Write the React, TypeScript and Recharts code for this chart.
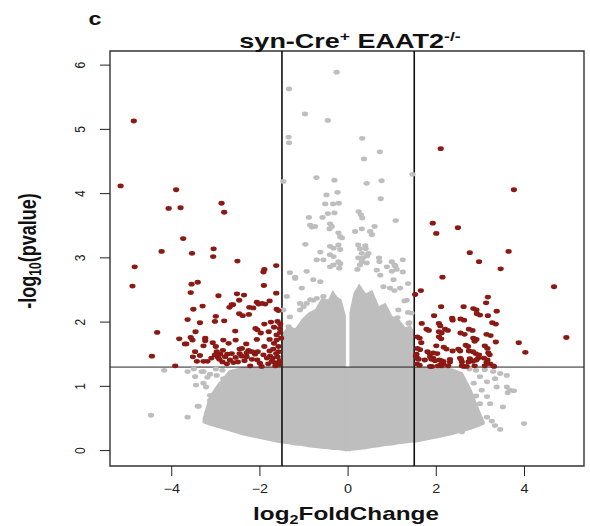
import React from "react";
import {
  ComposedChart,
  Area,
  Scatter,
  XAxis,
  YAxis,
  ReferenceLine,
  ReferenceArea,
} from "recharts";

const GREY = "#bebebe";
const RED = "#8b1a14";
const FONT = '"Liberation Sans", Arial, Helvetica, sans-serif';

const xTicks = [-4, -2, 0, 2, 4];
const yTicks = [0, 1, 2, 3, 4, 5, 6];

// dense grey cloud (non-significant genes), split at the thin gap near log2FC = 0
const leftCloudX = [-3.3, -3.15, -2.95, -2.7, -2.4, -2.0, -1.52, -1.5, -1.35, -1.2, -1.05, -0.9, -0.75, -0.6, -0.45, -0.35, -0.25, -0.15, -0.05];
const leftCloudLow = [0.43, 0.39, 0.35, 0.3, 0.24, 0.18, 0.11, 0.11, 0.1, 0.08, 0.07, 0.05, 0.04, 0.03, 0.02, 0.01, 0.01, 0.0, -0.01];
const leftCloudHigh = [0.5, 0.85, 1.05, 1.25, 1.3, 1.3, 1.3, 1.82, 1.95, 1.9, 2.05, 2.15, 2.2, 2.38, 2.35, 2.5, 2.4, 2.35, 2.1];
const midCloudX = [-0.08, 0.06];
const midCloudLow = [-0.01, -0.01];
const midCloudHigh = [1.3, 1.3];
const rightCloudX = [0.03, 0.12, 0.25, 0.4, 0.55, 0.7, 0.85, 1.0, 1.15, 1.3, 1.42, 1.5, 1.52, 2.0, 2.35, 2.6, 2.8, 3.0, 3.1];
const rightCloudLow = [-0.01, 0.0, 0.01, 0.02, 0.04, 0.05, 0.07, 0.08, 0.1, 0.11, 0.12, 0.12, 0.12, 0.19, 0.24, 0.29, 0.33, 0.38, 0.41];
const rightCloudHigh = [2.15, 2.45, 2.6, 2.45, 2.5, 2.25, 2.3, 2.1, 2.05, 1.92, 1.95, 1.85, 1.3, 1.3, 1.28, 1.22, 0.95, 0.6, 0.45];

// scattered grey genes around the cloud
const greyTop: [number, number][] = [
  [-0.26, 5.89], [-1.34, 5.63], [-0.98, 5.24], [-0.46, 5.14], [-1.35, 4.88], [-1.34, 4.79],
  [0.32, 4.86], [0.72, 4.65], [0.36, 4.54], [1.46, 4.3], [-1.47, 4.19], [-0.72, 4.25],
  [-0.31, 4.21], [0.42, 4.16], [0.76, 4.2], [-0.49, 3.98], [-0.24, 4.02], [0.74, 3.92],
  [-0.52, 3.84], [-0.34, 3.84], [-0.21, 3.85], [0.24, 3.72], [0.29, 3.67], [0.32, 3.62],
  [1.08, 3.58], [-0.89, 3.63], [-0.58, 3.63], [-0.46, 3.69], [-0.31, 3.7], [-0.86, 3.51],
  [-0.82, 3.48], [-0.75, 3.49], [-0.41, 3.53], [-0.37, 3.49], [-0.42, 3.45], [0.6, 3.49],
  [0.5, 3.41], [0.54, 3.36], [0.31, 3.45], [0.16, 3.41], [-0.22, 3.39], [-0.18, 3.33],
  [-0.14, 3.31], [-0.97, 3.21], [-0.41, 3.18], [-0.33, 3.15], [-0.22, 3.2], [-0.18, 3.13],
  [0.23, 3.2], [0.39, 3.19], [0.46, 3.07], [0.31, 3.07], [0.27, 3.14], [0.4, 3.14],
  [-0.63, 3.09], [-0.41, 3.05], [-0.33, 3.02], [-0.71, 2.97], [-0.56, 2.97], [0.99, 2.94],
  [1.07, 2.87], [0.7, 3.0], [0.88, 2.86], [0.99, 2.79], [0.65, 2.81], [1.24, 2.97],
  [1.1, 2.82], [0.71, 2.94], [0.43, 3.03], [0.34, 3.0], [-0.22, 2.94], [-0.18, 2.91],
  [-0.2, 2.84], [-0.41, 2.86], [-0.33, 2.89], [0.23, 3.0], [0.31, 2.94], [0.27, 2.89],
  [0.42, 2.92], [0.21, 2.82], [-1.32, 2.77], [-1.2, 2.7], [-0.94, 2.79], [-0.79, 2.66],
  [-0.63, 2.63], [-1.05, 2.53], [-1.39, 2.4], [-0.86, 2.35], [-0.71, 2.37], [-0.56, 2.4],
  [0.73, 2.73], [0.8, 2.55], [1.03, 2.66], [0.95, 2.53], [1.18, 2.53], [1.33, 2.34],
  [1.14, 2.19], [1.44, 2.14], [1.37, 1.98], [-1.47, 2.19], [-1.32, 2.08], [-1.35, 1.93],
  [-1.09, 2.29], [-1.01, 2.24], [-1.2, 2.68], [-1.09, 2.19], [-0.94, 2.29], [-0.79, 2.34],
  [-1.16, 1.88], [-1.39, 1.83], [-0.94, 1.93], [1.05, 2.89], [1.24, 2.78], [1.36, 2.6],
  [1.05, 2.49], [1.28, 2.33], [1.36, 2.15], [1.12, 2.07], [1.39, 1.99],
];
const greyLeft: [number, number][] = [
  [-4.17, 1.25], [-4.47, 0.55], [-3.64, 0.52], [-3.41, 0.69], [-3.64, 1.23], [-3.47, 1.15],
  [-3.45, 1.02], [-3.28, 1.23], [-3.13, 1.19], [-3.22, 0.99], [-3.13, 0.86], [-3.09, 0.76],
  [-3.2, 0.58], [-3.32, 1.23], [-3.28, 1.05], [-3.19, 1.14], [-3.39, 0.69], [-3.13, 0.78],
  [-3.05, 0.73], [-3.15, 0.63], [-3.09, 0.52], [-3.02, 0.45], [-2.94, 0.39], [-2.98, 1.17],
  [-2.83, 1.12], [-2.75, 1.05], [-3.0, 1.27], [-2.85, 1.25], [-3.5, 1.27],
];
const greyRight: [number, number][] = [
  [3.29, 1.23], [3.45, 1.2], [3.6, 1.17], [2.99, 1.15], [3.15, 1.07], [3.33, 1.12],
  [3.37, 0.99], [3.6, 0.99], [3.67, 0.94], [3.03, 0.94], [3.15, 0.84], [3.22, 0.73],
  [2.99, 0.73], [3.15, 0.52], [3.33, 0.39], [2.99, 0.45], [2.84, 0.52], [2.77, 0.37],
  [2.58, 0.29], [2.69, 0.63], [2.84, 0.68], [2.61, 0.47], [3.99, 0.42], [3.45, 0.33],
  [3.26, 0.46], [3.51, 0.68], [3.62, 0.9], [3.76, 0.93], [2.75, 1.27], [2.9, 1.25],
  [3.1, 1.26], [2.85, 1.05], [2.9, 0.85],
];

// significant genes
const redLeft: [number, number][] = [
  [-4.86, 5.13], [-5.16, 4.12], [-3.9, 4.06], [-4.07, 3.77], [-3.8, 3.78], [-2.87, 3.85],
  [-2.81, 3.71], [-3.74, 3.3], [-4.23, 3.1], [-3.54, 3.07], [-3.05, 3.14], [-3.06, 3.02],
  [-2.51, 2.95], [-4.84, 2.86], [-1.9, 2.82], [-1.63, 2.88], [-4.89, 2.56], [-3.55, 2.59],
  [-3.41, 2.62], [-1.92, 2.78], [-1.91, 2.57], [-2.61, 2.27], [-2.07, 2.31], [-2.24, 2.23],
  [-2.15, 2.22], [-1.78, 2.33], [-1.88, 2.28], [-3.64, 2.04], [-3.36, 1.99], [-3.02, 2.01],
  [-2.81, 2.02], [-4.33, 1.84], [-3.7, 1.66], [-4.45, 1.47], [-3.92, 1.32], [-3.57, 2.46],
  [-2.94, 2.41], [-2.52, 2.44], [-2.36, 2.42], [-1.63, 2.45], [-2.47, 2.34], [-2.64, 2.27],
  [-2.69, 2.23], [-3.3, 2.25], [-3.51, 2.2], [-2.03, 2.28], [-1.95, 2.29], [-1.62, 2.2],
  [-1.58, 2.18], [-2.47, 2.13], [-2.39, 2.1], [-2.25, 2.12], [-3.0, 2.09], [-1.75, 2.0],
  [-1.6, 2.01], [-1.54, 1.97], [-1.9, 1.97], [-1.68, 1.92], [-2.06, 1.88], [-1.98, 1.83],
  [-1.8, 1.85], [-2.1, 1.9], [-2.56, 1.86], [-3.46, 1.85], [-1.54, 1.84], [-1.62, 1.8],
  [-3.83, 1.74], [-3.57, 1.76], [-3.53, 1.72], [-3.67, 1.66], [-3.24, 1.75], [-3.24, 1.71],
  [-3.07, 1.68], [-3.28, 1.63], [-2.83, 1.72], [-2.71, 1.67], [-2.55, 1.72], [-2.31, 1.66],
  [-2.41, 1.59], [-2.26, 1.56], [-2.07, 1.73], [-1.78, 1.73], [-1.62, 1.72], [-1.68, 1.67],
  [-1.58, 1.62], [-3.0, 1.62], [-2.84, 1.56], [-2.98, 1.54], [-2.9, 1.5], [-2.74, 1.5],
  [-2.79, 1.46], [-2.68, 1.41], [-2.92, 1.42], [-3.02, 1.49], [-3.47, 1.54], [-3.52, 1.46],
  [-3.36, 1.48], [-3.43, 1.39], [-3.28, 1.39], [-3.19, 1.39], [-2.46, 1.58], [-2.46, 1.51],
  [-2.41, 1.47], [-2.3, 1.52], [-2.18, 1.54], [-2.11, 1.5], [-2.05, 1.54], [-2.3, 1.46],
  [-2.18, 1.42], [-2.06, 1.41], [-1.92, 1.49], [-1.84, 1.44], [-1.77, 1.47], [-1.71, 1.44],
  [-1.63, 1.51], [-1.58, 1.54], [-1.6, 1.46], [-2.6, 1.37], [-2.22, 1.32], [-1.96, 1.31],
  [-1.81, 1.35], [-1.73, 1.39], [-1.66, 1.37], [-2.64, 1.51], [-2.95, 1.45], [-2.85, 1.38],
  [-2.75, 1.35], [-3.1, 1.44], [-2.55, 1.45], [-2.5, 1.38], [-2.35, 1.4], [-1.55, 1.4],
  [-1.56, 1.34], [-1.65, 1.32], [-1.52, 1.75], [-1.55, 1.9], [-1.7, 1.58], [-1.9, 1.62],
  [-2.0, 1.36], [-1.78, 1.55],
];
const redRight: [number, number][] = [
  [2.1, 4.7], [3.76, 4.06], [1.92, 3.54], [2.0, 3.38], [2.49, 3.47], [2.76, 3.08],
  [3.64, 3.1], [2.97, 2.94], [3.46, 2.83], [2.14, 2.7], [4.67, 2.55], [4.95, 1.76],
  [3.87, 1.68], [4.02, 1.53], [1.65, 2.49], [1.52, 2.43], [3.17, 2.39], [3.13, 2.3],
  [2.62, 2.24], [2.11, 2.24], [2.91, 2.19], [3.37, 2.17], [1.95, 2.1], [2.99, 2.11],
  [3.17, 2.1], [2.36, 2.06], [2.37, 2.03], [2.63, 2.03], [1.67, 1.98], [2.06, 1.98],
  [2.09, 1.94], [3.35, 1.97], [1.83, 1.87], [2.26, 1.87], [2.12, 1.83], [2.82, 1.87],
  [2.64, 1.81], [3.23, 1.79], [1.62, 1.75], [2.11, 1.74], [2.91, 1.73], [2.87, 1.7],
  [3.35, 1.69], [1.66, 1.68], [2.72, 1.62], [2.23, 1.58], [2.37, 1.55], [2.54, 1.55],
  [3.16, 1.59], [1.63, 1.57], [1.85, 1.51], [2.02, 1.51], [2.83, 1.54], [2.89, 1.51],
  [2.97, 1.49], [3.18, 1.52], [3.21, 1.49], [1.54, 1.47], [1.6, 1.42], [1.74, 1.41],
  [1.89, 1.42], [1.97, 1.4], [2.11, 1.4], [2.16, 1.35], [2.31, 1.38], [2.56, 1.42],
  [2.58, 1.38], [2.76, 1.43], [2.8, 1.4], [2.91, 1.41], [3.08, 1.44], [3.16, 1.41],
  [3.22, 1.35], [3.31, 1.31], [1.62, 1.33], [1.9, 1.31], [2.04, 1.32], [2.12, 1.32],
  [2.27, 1.32], [2.62, 1.31], [2.69, 1.31], [2.87, 1.32], [3.1, 1.32], [1.58, 1.43],
  [2.84, 2.21], [2.92, 2.13], [2.55, 2.05], [3.27, 1.99], [2.2, 1.89], [2.06, 1.85],
  [1.78, 1.89], [2.55, 1.83], [2.74, 1.89], [3.14, 1.81], [1.57, 1.77], [2.06, 1.77],
  [2.84, 1.75], [2.67, 1.64], [2.0, 1.63], [2.17, 1.61], [2.5, 1.58], [3.1, 1.63],
  [1.57, 1.59], [1.8, 1.54], [1.93, 1.52], [2.74, 1.55], [1.55, 1.5], [1.56, 1.44],
  [1.86, 1.46], [1.93, 1.44], [2.07, 1.41], [2.16, 1.39], [2.31, 1.42], [2.54, 1.44],
  [2.73, 1.38], [2.83, 1.39], [2.95, 1.44], [3.14, 1.37], [1.56, 1.35], [1.86, 1.31],
  [2.09, 1.33], [2.58, 1.32], [3.29, 1.32],
];

const cloudRows = [
  ...leftCloudX.map((x, i) => ({ x, left: [leftCloudLow[i], leftCloudHigh[i]] })),
  ...midCloudX.map((x, i) => ({ x, mid: [midCloudLow[i], midCloudHigh[i]] })),
  ...rightCloudX.map((x, i) => ({ x, right: [rightCloudLow[i], rightCloudHigh[i]] })),
];

const toPoints = (arr: [number, number][]) => arr.map(([x, y]) => ({ x, y }));
const greyPoints = toPoints([...greyTop, ...greyLeft, ...greyRight]);
const redPoints = toPoints([...redLeft, ...redRight]);

const dot = (color: string) => (p: any) =>
  <ellipse cx={p.cx} cy={p.cy} rx={3.1} ry={2.4} fill={color} />;

const fmt = (v: number) => (v < 0 ? `\u2212${-v}` : `${v}`);

function XTick(p: any) {
  return (
    <text
      transform={`translate(${p.x},${p.y + 15}) scale(1.2,1)`}
      textAnchor="middle"
      fontFamily={FONT}
      fontSize={12}
      fill="#222"
    >
      {fmt(p.payload.value)}
    </text>
  );
}

function YTick(p: any) {
  return (
    <text
      transform={`translate(${p.x - 13},${p.y}) scale(1.15,1) rotate(-90)`}
      textAnchor="middle"
      fontFamily={FONT}
      fontSize={12}
      fill="#222"
    >
      {p.payload.value}
    </text>
  );
}

const cloudProps = {
  type: "linear" as const,
  stroke: "none",
  fill: GREY,
  fillOpacity: 1,
  dot: false,
  activeDot: false,
  isAnimationActive: false,
};

export default function App() {
  return (
    <div style={{ position: "absolute", left: 0, top: 0, width: 590, height: 526, background: "#fff" }}>
      <ComposedChart
        width={590}
        height={526}
        data={cloudRows}
        margin={{ top: 51, right: 6, bottom: 0, left: 0 }}
      >
        <XAxis
          type="number"
          dataKey="x"
          domain={[-5.4, 5.35]}
          ticks={xTicks}
          allowDataOverflow
          axisLine={false}
          tickLine={{ stroke: "#222" }}
          tickSize={10}
          height={60}
          interval={0}
          tick={(p: any) => <XTick {...p} />}
        />
        <YAxis
          type="number"
          domain={[-0.24, 6.22]}
          ticks={yTicks}
          allowDataOverflow
          axisLine={false}
          tickLine={{ stroke: "#222" }}
          tickSize={10}
          width={110}
          interval={0}
          tick={(p: any) => <YTick {...p} />}
        />
        <Area dataKey="left" {...cloudProps} />
        <Area dataKey="mid" {...cloudProps} />
        <Area dataKey="right" {...cloudProps} />
        <Scatter data={greyPoints} dataKey="y" shape={dot(GREY)} isAnimationActive={false} />
        <Scatter data={redPoints} dataKey="y" shape={dot(RED)} isAnimationActive={false} />
        <ReferenceLine x={-1.5} stroke="#111" strokeWidth={1.6} />
        <ReferenceLine x={1.5} stroke="#111" strokeWidth={1.6} />
        <ReferenceLine y={1.3} stroke="#222" strokeWidth={1} />
        <ReferenceArea x1={-5.4} x2={5.35} y1={-0.24} y2={6.22} fill="none" stroke="#333" strokeWidth={1.4} />
      </ComposedChart>
      <svg width={590} height={526} style={{ position: "absolute", left: 0, top: 0, pointerEvents: "none" }}>
        <text transform="translate(95,24.5) scale(1.3,1)" textAnchor="middle" fontFamily={FONT} fontWeight="bold" fontSize={18} fill="#111">
          c
        </text>
        <text transform="translate(350,48) scale(1.35,1)" textAnchor="middle" fontFamily={FONT} fontWeight="bold" fontSize={20} fill="#111">
          syn-Cre
          <tspan fontSize={13} dy={-7}>+</tspan>
          <tspan dy={7}> EAAT2</tspan>
          <tspan fontSize={13} dy={-7}>-/-</tspan>
        </text>
        <text transform="translate(346,520) scale(1.35,1)" textAnchor="middle" fontFamily={FONT} fontWeight="bold" fontSize={18} fill="#111">
          log
          <tspan fontSize={12} dy={4}>2</tspan>
          <tspan dy={-4}>FoldChange</tspan>
        </text>
        <text transform="translate(36,251) scale(1.3,1) rotate(-90)" textAnchor="middle" fontFamily={FONT} fontWeight="bold" fontSize={18} fill="#111">
          -log
          <tspan fontSize={12} dy={4}>10</tspan>
          <tspan dy={-4}>(pvalue)</tspan>
        </text>
      </svg>
    </div>
  );
}
